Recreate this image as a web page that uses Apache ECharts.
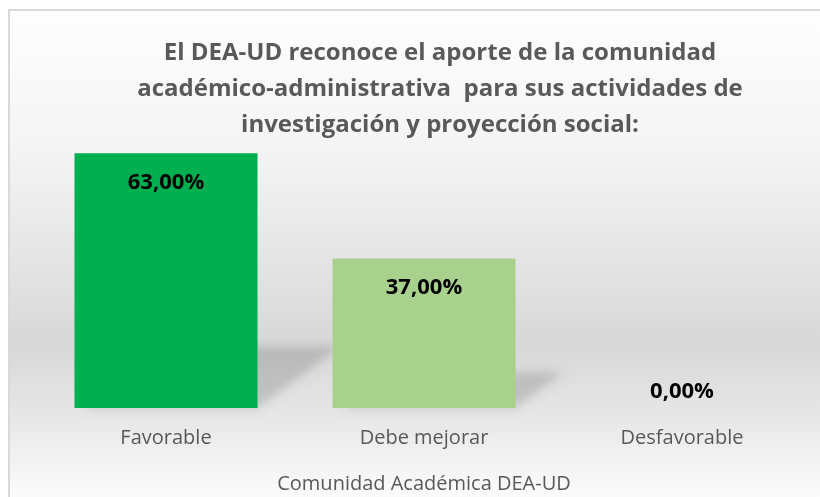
<!DOCTYPE html>
<html>
<head>
<meta charset="utf-8">
<script src="https://cdn.jsdelivr.net/npm/echarts@6/dist/echarts.min.js"></script>
<style>
html,body{margin:0;padding:0;background:#fff;}
#main{width:820px;height:497px;}
</style>
</head>
<body>
<div id="main"></div>
<script>
var categories = ['Favorable', 'Debe mejorar', 'Desfavorable'];
var values = [63, 37, 0];
var barColors = ['#00B050', '#A9D18E', '#A9D18E'];
var titleText = 'El DEA-UD reconoce el aporte de la comunidad\nacadémico-administrativa  para sus actividades de\ninvestigación y proyección social:';
var axisName = 'Comunidad Académica DEA-UD';

window.onload = function () {
	var myChart = echarts.init(document.getElementById('main'));
	var font = '"Open Sans", sans-serif';
	var barW = 183;

	var data = values.map(function (v, i) {
		var item = { value: v, itemStyle: { color: barColors[i] } };
		if (v === 0) {
			item.label = { position: 'top', distance: 5 };
		}
		return item;
	});

	// floor shadow behind each bar (only the blurred shadow is visible)
	function renderShadow(params, api) {
		var base = api.coord([api.value(0), 0]);
		var top = api.coord([api.value(0), api.value(1)]);
		var h = base[1] - top[1];
		if (h <= 0) return null;
		var hs = h * 0.24;
		var dx = hs * 1.35;
		var x0 = base[0] - barW / 2, x1 = base[0] + barW / 2, y = base[1];
		var off = 3000;
		return {
			type: 'polygon',
			shape: {
				points: [
					[x0 + 10 - off, y], [x1 - off, y],
					[x1 + dx - off, y - hs], [x0 + dx - off, y - hs]
				]
			},
			style: {
				fill: 'rgba(0,0,0,0.38)',
				shadowColor: 'rgba(0,0,0,0.38)',
				shadowBlur: 10,
				shadowOffsetX: off
			}
		};
	}

	option = {
		backgroundColor: '#fff',
		graphic: [{
			type: 'rect',
			z: -10,
			shape: { x: 9, y: 10, width: 830, height: 500 },
			style: {
				fill: new echarts.graphic.LinearGradient(0, 0, 0, 1, [
					{ offset: 0, color: '#fefefe' },
					{ offset: 0.28, color: '#f4f4f4' },
					{ offset: 0.48, color: '#e6e6e6' },
					{ offset: 0.67, color: '#d7d7d7' },
					{ offset: 0.82, color: '#e8e8e8' },
					{ offset: 0.96, color: '#fafafa' },
					{ offset: 1, color: '#fdfdfd' }
				]),
				stroke: '#d9d9d9',
				lineWidth: 2
			}
		}],
		title: {
			text: titleText,
			left: 435,
			textAlign: 'center',
			top: 30,
			textStyle: {
				fontFamily: font,
				fontWeight: 'bold',
				fontSize: 24,
				lineHeight: 36,
				color: '#595959'
			}
		},
		grid: { left: 37, right: 9, top: 125, bottom: 89, outerBoundsMode: 'none' },
		xAxis: {
			type: 'category',
			data: categories,
			name: axisName,
			nameLocation: 'middle',
			nameGap: 66,
			nameTextStyle: { fontFamily: font, fontSize: 20, color: '#595959' },
			axisLine: { show: false },
			axisTick: { show: false },
			axisLabel: { fontFamily: font, fontSize: 20, color: '#595959', margin: 20 }
		},
		yAxis: {
			type: 'value',
			min: 0,
			max: 70,
			show: false,
			splitLine: { show: false }
		},
		series: [{
			type: 'custom',
			z: 1,
			silent: true,
			renderItem: renderShadow,
			data: values.map(function (v, i) { return [i, v]; })
		}, {
			type: 'bar',
			z: 2,
			data: data,
			barWidth: barW,
			label: {
				show: true,
				position: 'insideTop',
				distance: 18,
				fontFamily: font,
				fontWeight: 'bold',
				fontSize: 22,
				color: '#000',
				formatter: function (p) {
					return p.value.toFixed(2).replace('.', ',') + '%';
				}
			}
		}]
	};

	myChart.setOption(option);
};
</script>
</body>
</html>
